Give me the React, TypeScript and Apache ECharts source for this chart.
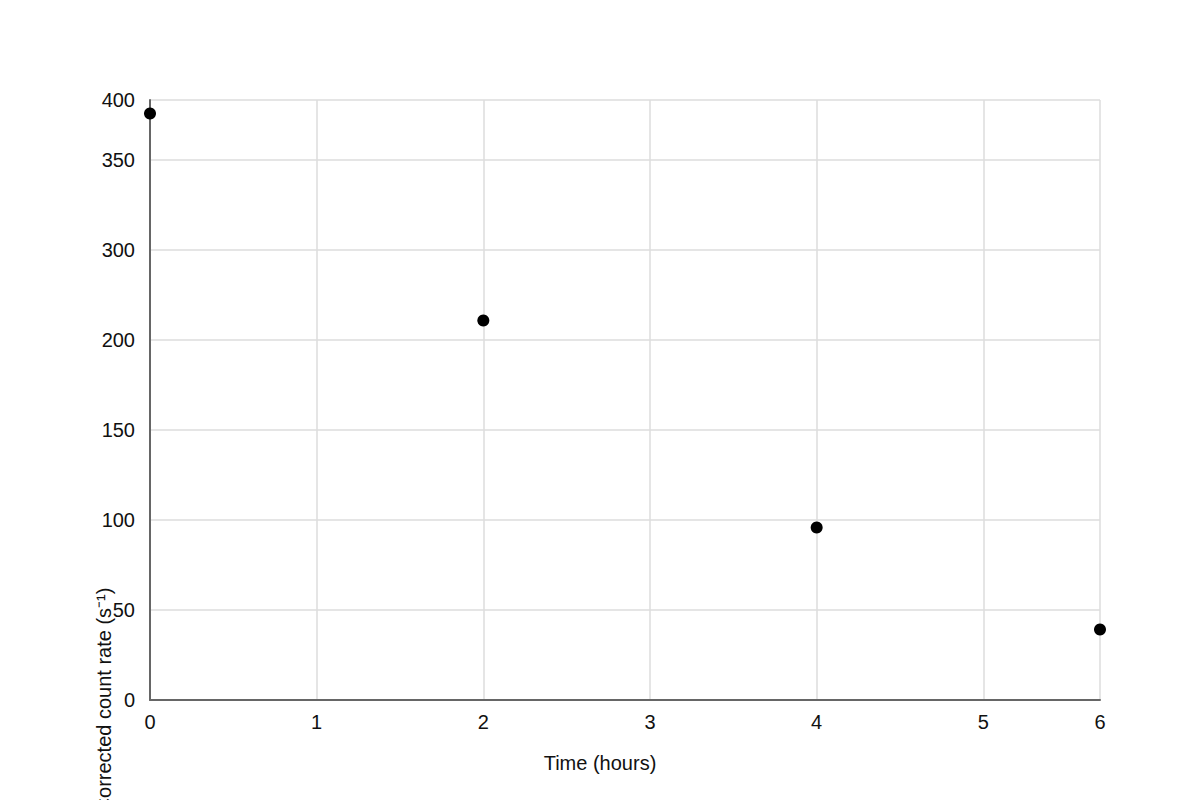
import { useEffect, useRef } from "react";
import * as echarts from "echarts";

// measured points, as positions on the axes' linear scales
const HOURS = [0, 2, 4, 5.7];
const COUNT_RATES = [391, 253, 115, 47];

// x ticks: position value -> printed label (the last tick sits at the axis end)
const X_TICK_VALUES = [0, 1, 2, 3, 4, 5, 5.7];
const X_TICK_LABELS = ["0", "1", "2", "3", "4", "5", "6"];

// y ticks: position value -> printed label
const Y_TICK_VALUES = [0, 60, 120, 180, 240, 300, 360, 400];
const Y_TICK_LABELS = ["0", "50", "100", "150", "200", "300", "350", "400"];

const X_TITLE = "Time (hours)";
const Y_TITLE = "Corrected count rate (s\u207B\u00B9)";

const FONT = "'Liberation Sans', Arial, sans-serif";
const INK = "#111111";

const lookup = (values: number[], labels: string[]) => (v: number) => {
  const i = values.findIndex((t) => Math.abs(t - v) < 1e-6);
  return i >= 0 ? labels[i] : "";
};

export default function App() {
  const chartRef = useRef<HTMLDivElement>(null);

  useEffect(() => {
    if (!chartRef.current) return;
    const chart = echarts.init(chartRef.current, undefined, { renderer: "svg" });

    chart.setOption({
      animation: false,
      backgroundColor: "#ffffff",
      textStyle: { fontFamily: FONT },
      grid: { left: 150, right: 100, top: 100, bottom: 100, containLabel: false },
      xAxis: {
        type: "value",
        min: 0,
        max: 5.7,
        interval: 1,
        axisLine: { show: true, onZero: false, lineStyle: { color: "#666666", width: 2 } },
        axisTick: { show: false },
        axisLabel: {
          color: INK,
          fontSize: 20,
          margin: 12,
          fontFamily: FONT,
          formatter: lookup(X_TICK_VALUES, X_TICK_LABELS),
        },
        splitLine: { show: true, lineStyle: { color: "#dddddd", width: 1.5 } },
      },
      yAxis: {
        type: "value",
        min: 0,
        max: 400,
        interval: 60,
        axisLine: { show: true, onZero: false, lineStyle: { color: "#666666", width: 2 } },
        axisTick: { show: false },
        axisLabel: {
          color: INK,
          fontSize: 20,
          margin: 15,
          fontFamily: FONT,
          formatter: lookup(Y_TICK_VALUES, Y_TICK_LABELS),
        },
        splitLine: { show: true, lineStyle: { color: "#dddddd", width: 1.5 } },
      },
      graphic: [
        {
          type: "text",
          x: 600,
          y: 763,
          style: {
            text: X_TITLE,
            fill: INK,
            font: `20px ${FONT}`,
            textAlign: "center",
            textVerticalAlign: "middle",
          },
        },
        {
          type: "text",
          x: 104,
          y: 700,
          rotation: Math.PI / 2,
          style: {
            text: Y_TITLE,
            fill: INK,
            font: `20px ${FONT}`,
            textAlign: "center",
            textVerticalAlign: "middle",
          },
        },
      ],
      series: [
        {
          type: "scatter",
          data: HOURS.map((h, i) => [h, COUNT_RATES[i]]),
          symbol: "circle",
          symbolSize: 12,
          itemStyle: { color: "#000000", opacity: 1 },
          clip: false,
        },
      ],
    });

    return () => {
      chart.dispose();
    };
  }, []);

  return (
    <div
      ref={chartRef}
      style={{ position: "fixed", left: 0, top: 0, width: 1200, height: 800 }}
    />
  );
}
